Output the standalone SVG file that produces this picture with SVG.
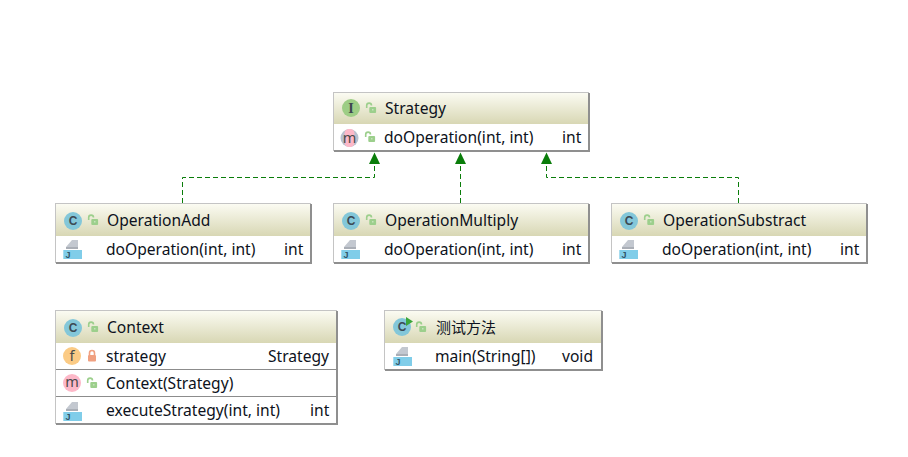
<svg xmlns="http://www.w3.org/2000/svg" xmlns:xlink="http://www.w3.org/1999/xlink" width="908" height="457" viewBox="0 0 908 457">
<style>
.box{fill:#fff;stroke:#c4c4c4;stroke-width:1}
.shadow{fill:none;stroke:#8f8f8f;stroke-width:2}
.head{fill:url(#hg)}
.sep{stroke:#8c8c8c;stroke-width:1;fill:none}
text{font-family:"Noto Sans","Open Sans","Noto Sans CJK SC",sans-serif;font-size:15.6px;fill:#0d1220}
.i{font-family:"Noto Sans",sans-serif;font-size:14.5px;text-anchor:middle;fill:#4a4a4a}
.c{font-family:"Liberation Sans",sans-serif;font-size:12px;font-weight:bold;text-anchor:middle;fill:#3c4a55}
.edge{fill:none;stroke:#0a7d0a;stroke-width:1;stroke-dasharray:5 3}
.tip{fill:#0a7d0a;stroke:none}
</style>
<defs>
<linearGradient id="hg" x1="0" y1="0" x2="0" y2="1"><stop offset="0" stop-color="#fbfbf2"/><stop offset="1" stop-color="#d8d7b4"/></linearGradient>
<g id="lock"><path d="M-4.300 0V-2.500A2.400 2.400 0 0 1 0.500 -2.500" fill="none" stroke="#9ccf8c" stroke-width="1.600"/><rect x="-1.700" y="-1" width="6.800" height="6" rx="1" fill="#9ccf8c"/><rect x="1" y="1" width="1.500" height="1.500" fill="#c6e3bc"/></g>
<g id="plock"><path d="M-2.500 -1V-3A2.500 2.500 0 0 1 2.500 -3V-1" fill="none" stroke="#f0a080" stroke-width="1.600"/><rect x="-4" y="-1" width="8" height="6.500" rx="1" fill="#f0a080"/></g>
<g id="cls"><circle r="9" fill="#83c7d9"/><text class="c" y="4.300">C</text></g>
<g id="meth"><circle r="9" fill="#fdb8c8"/><text class="i" y="4">m</text></g>
<g id="jm"><path d="M-6 2L0 -5H6V4H-6Z" fill="#c3c8d0"/><path d="M-6 2H6V4H-6Z" fill="#a9aeb6"/><rect x="-8.700" y="5" width="18.700" height="9" fill="#80cde9"/><text x="-4" y="13" style="font-size:9px;font-family:'Liberation Sans',sans-serif;font-weight:bold;fill:#33556a" text-anchor="middle">J</text></g>
</defs>
<g id="connectors">
<path class="edge" d="M182.500 203V177.500H374.500V160"/><path class="tip" d="M374.500 152.500L369 164H380Z"/>
<path class="edge" d="M460.500 203V160"/><path class="tip" d="M460.500 152.500L455 164H466Z"/>
<path class="edge" d="M738.500 203V177.500H546.500V160"/><path class="tip" d="M546.500 152.500L541 164H552Z"/>
</g>
<g id="Strategy">
<rect class="box" x="333.500" y="92.500" width="255" height="58"/><path class="shadow" d="M334 151H589V93"/><rect class="head" x="334" y="93" width="254" height="31"/>
<circle cx="351" cy="108" r="9" fill="#9dcd85"/><text x="351" y="113" style="font-family:'Liberation Serif',serif;font-size:14px;font-weight:bold;fill:#3c4650" text-anchor="middle">I</text>
<use xlink:href="#lock" x="371" y="108"/><text x="385" y="114">Strategy</text>
<circle cx="349.500" cy="138" r="9" fill="#b8c0ce"/><rect x="344.500" y="129" width="10" height="18" rx="4.500" fill="#fdb8c8"/><text class="i" x="349.500" y="142.500">m</text>
<use xlink:href="#lock" x="370" y="137"/><text x="384" y="143">doOperation(int, int)</text><text x="562" y="143">int</text>
</g>
<g id="OperationAdd">
<rect class="box" x="55.500" y="203.500" width="255" height="59"/><path class="shadow" d="M56 263H311V204"/><rect class="head" x="56" y="204" width="254" height="32"/>
<use xlink:href="#cls" x="73" y="221"/><use xlink:href="#lock" x="93" y="220"/><text x="107" y="226">OperationAdd</text>
<use xlink:href="#jm" x="72" y="245"/><text x="106" y="255">doOperation(int, int)</text><text x="284" y="255">int</text>
</g>
<g id="OperationMultiply">
<rect class="box" x="333.500" y="203.500" width="255" height="59"/><path class="shadow" d="M334 263H589V204"/><rect class="head" x="334" y="204" width="254" height="32"/>
<use xlink:href="#cls" x="351" y="221"/><use xlink:href="#lock" x="371" y="220"/><text x="385" y="226">OperationMultiply</text>
<use xlink:href="#jm" x="350" y="245"/><text x="384" y="255">doOperation(int, int)</text><text x="562" y="255">int</text>
</g>
<g id="OperationSubstract">
<rect class="box" x="611.500" y="203.500" width="255" height="59"/><path class="shadow" d="M612 263H867V204"/><rect class="head" x="612" y="204" width="254" height="32"/>
<use xlink:href="#cls" x="629" y="221"/><use xlink:href="#lock" x="649" y="220"/><text x="663" y="226">OperationSubstract</text>
<use xlink:href="#jm" x="628" y="245"/><text x="662" y="255">doOperation(int, int)</text><text x="840" y="255">int</text>
</g>
<g id="Context">
<rect class="box" x="55.500" y="310.500" width="281" height="113"/><path class="shadow" d="M56 424H337V311"/><rect class="head" x="56" y="311" width="280" height="32"/>
<use xlink:href="#cls" x="73" y="328"/><use xlink:href="#lock" x="93" y="327"/><text x="107" y="333">Context</text>
<circle cx="72" cy="356" r="9" fill="#fbcb85"/><text class="i" x="72" y="361">f</text><use xlink:href="#plock" x="92" y="356"/><text x="106" y="362">strategy</text><text x="329" y="362" text-anchor="end">Strategy</text>
<path class="sep" d="M56 369.500H336"/>
<use xlink:href="#meth" x="72" y="383"/><use xlink:href="#lock" x="92" y="383"/><text x="106" y="389">Context(Strategy)</text>
<path class="sep" d="M56 396.500H336"/>
<use xlink:href="#jm" x="72" y="407"/><text x="106" y="416">executeStrategy(int, int)</text><text x="310" y="416">int</text>
</g>
<g id="TestMethod">
<rect class="box" x="384.500" y="310.500" width="217" height="59"/><path class="shadow" d="M385 370H602V311"/><rect class="head" x="385" y="311" width="216" height="32"/>
<use xlink:href="#cls" x="402" y="327"/><path d="M406 317L413 321.500L406 326Z" fill="#3aa63a"/><use xlink:href="#lock" x="421" y="327"/><text x="436" y="333" style="font-family:'Noto Sans CJK SC',sans-serif;font-size:15px">测试方法</text>
<use xlink:href="#jm" x="402" y="352"/><text x="435" y="362">main(String[])</text><text x="562" y="362">void</text>
</g>
</svg>
